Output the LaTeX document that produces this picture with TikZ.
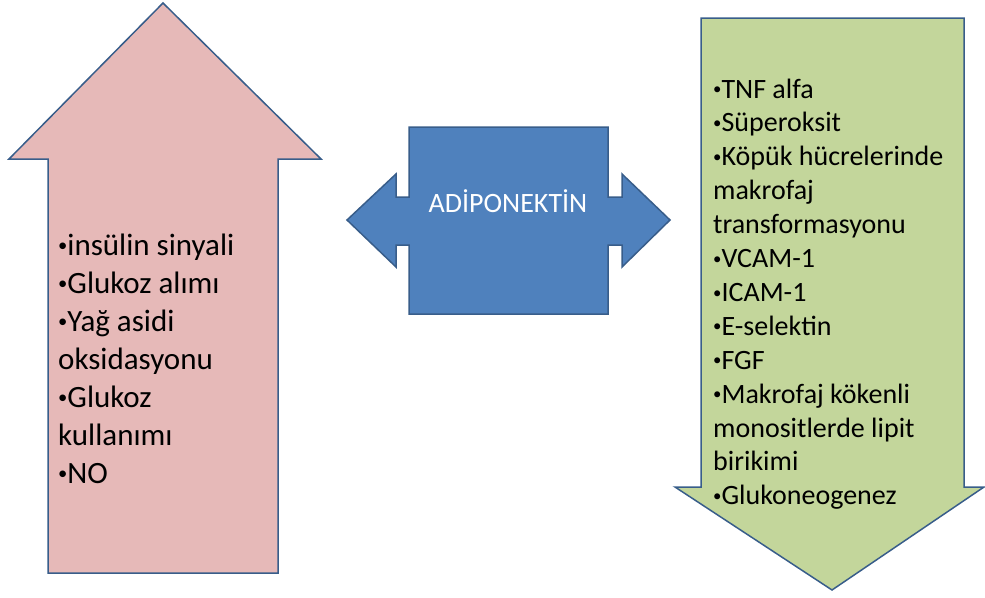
\documentclass[tikz,border=0pt]{standalone}
\usepackage{fontspec}
\setmainfont{Carlito}
\definecolor{pinkfill}{HTML}{E6B9B8}
\definecolor{greenfill}{HTML}{C3D69B}
\definecolor{bluefill}{HTML}{4F81BD}
\definecolor{edgeblue}{HTML}{385D8A}
\newcommand\bu{\raisebox{0.12em}{\scalebox{0.6}{•}}}
\begin{document}
\begin{tikzpicture}[x=1pt,y=-1pt,
  arrowshape/.style={draw=edgeblue,line width=1.5pt,line join=miter},
  lefttxt/.style={anchor=base west,inner sep=0pt,font=\fontsize{31}{36}\selectfont,text=black},
  righttxt/.style={anchor=base west,inner sep=0pt,font=\fontsize{28}{34}\selectfont,text=black},
  centertxt/.style={anchor=base,inner sep=0pt,font=\fontsize{28}{34}\selectfont,text=white}]
\useasboundingbox (0,0) rectangle (985,597);
% left up arrow
\path[arrowshape,fill=pinkfill] (48,573) -- (48,159) -- (9,159) -- (163,3) -- (321,159) -- (278,159) -- (278,573) -- cycle;
% central double arrow
\path[arrowshape,fill=bluefill] (409,127) -- (608,127) -- (608,197) -- (622,197) -- (622,174) -- (670,220) -- (622,267) -- (622,245) -- (608,245) -- (608,314) -- (409,314) -- (409,245) -- (396,245) -- (396,267) -- (347,220) -- (396,174) -- (396,197) -- (409,197) -- cycle;
% right down arrow
\path[arrowshape,fill=greenfill] (701,18) -- (964,18) -- (964,487) -- (984,487) -- (832,590) -- (675,487) -- (701,487) -- cycle;
% texts
\node[centertxt] (adipo) at (508,212) {ADİPONEKTİN};
\foreach \t [count=\i] in {\bu insülin sinyali,\bu Glukoz alımı,\bu Yağ asidi,oksidasyonu,\bu Glukoz,kullanımı,\bu NO}
  \node[lefttxt] (L\i) at (58,{255+38*(\i-1)}) {\t};
\foreach \t [count=\i] in {\bu TNF alfa,\bu Süperoksit,\bu Köpük hücrelerinde,makrofaj,transformasyonu,\bu VCAM-1,\bu ICAM-1,\bu E-selektin,\bu FGF,\bu Makrofaj kökenli,monositlerde lipit,birikimi,\bu Glukoneogenez}
  \node[righttxt] (R\i) at (713,{98+33.9*(\i-1)}) {\t};
\end{tikzpicture}
\end{document}
